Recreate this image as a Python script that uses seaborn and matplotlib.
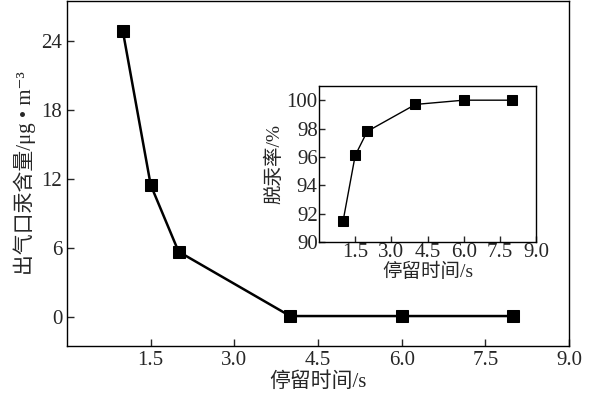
import matplotlib
matplotlib.use("Agg")
import matplotlib.pyplot as plt
import seaborn as sns
import pandas as pd

# residence time vs outlet mercury / removal rate
time_s = [1.0, 1.5, 2.0, 4.0, 6.0, 8.0]
outlet_hg = [24.9, 11.5, 5.7, 0.1, 0.1, 0.1]
removal_pct = [91.5, 96.1, 97.8, 99.7, 100.0, 100.0]

main_xticks = [1.5, 3.0, 4.5, 6.0, 7.5, 9.0]
main_yticks = [0, 6, 12, 18, 24]
inset_yticks = [90, 92, 94, 96, 98, 100]

sns.set_style("ticks")
plt.rcParams['font.family'] = ['Liberation Serif', 'Noto Sans CJK SC', 'DejaVu Sans']
plt.rcParams['xtick.direction'] = 'in'
plt.rcParams['ytick.direction'] = 'in'

df = pd.DataFrame({"time": time_s, "hg": outlet_hg, "rate": removal_pct})

fig = plt.figure(figsize=(6.0, 4.07), dpi=100)
ax = fig.add_axes([0.1117, 0.150, 0.8367, 0.8477])
sns.lineplot(data=df, x="time", y="hg", ax=ax, color="black", linewidth=1.8,
             marker="s", markersize=9, markeredgecolor="black")
ax.set_xlim(0, 9.0)
ax.set_ylim(-2.5, 27.5)
ax.set_xticks(main_xticks)
ax.set_xticklabels([f"{v:.1f}" for v in main_xticks])
ax.set_yticks(main_yticks)
ax.tick_params(labelsize=15, length=5, width=1, top=False, right=False)
ax.set_xlabel("停留时间/s", fontsize=15, labelpad=2)
ax.set_ylabel("出气口汞含量/μg • m⁻³", fontsize=15, labelpad=4)
for s in ax.spines.values():
    s.set_linewidth(1)
    s.set_color("black")

ins = fig.add_axes([0.5317, 0.4054, 0.3617, 0.3833])
sns.lineplot(data=df, x="time", y="rate", ax=ins, color="black", linewidth=1,
             marker="s", markersize=6.5, markeredgecolor="black")
ins.set_xlim(0, 9.0)
ins.set_ylim(90, 101)
ins.set_xticks(main_xticks)
ins.set_xticklabels([f"{v:.1f}" for v in main_xticks])
ins.set_yticks(inset_yticks)
ins.tick_params(labelsize=15, length=4, width=1, pad=1)
ins.set_xlabel("停留时间/s", fontsize=14, labelpad=0)
ins.set_ylabel("脱汞率/%", fontsize=14, labelpad=2)
for s in ins.spines.values():
    s.set_linewidth(1)
    s.set_color("black")

fig.savefig("out.png", dpi=100)
